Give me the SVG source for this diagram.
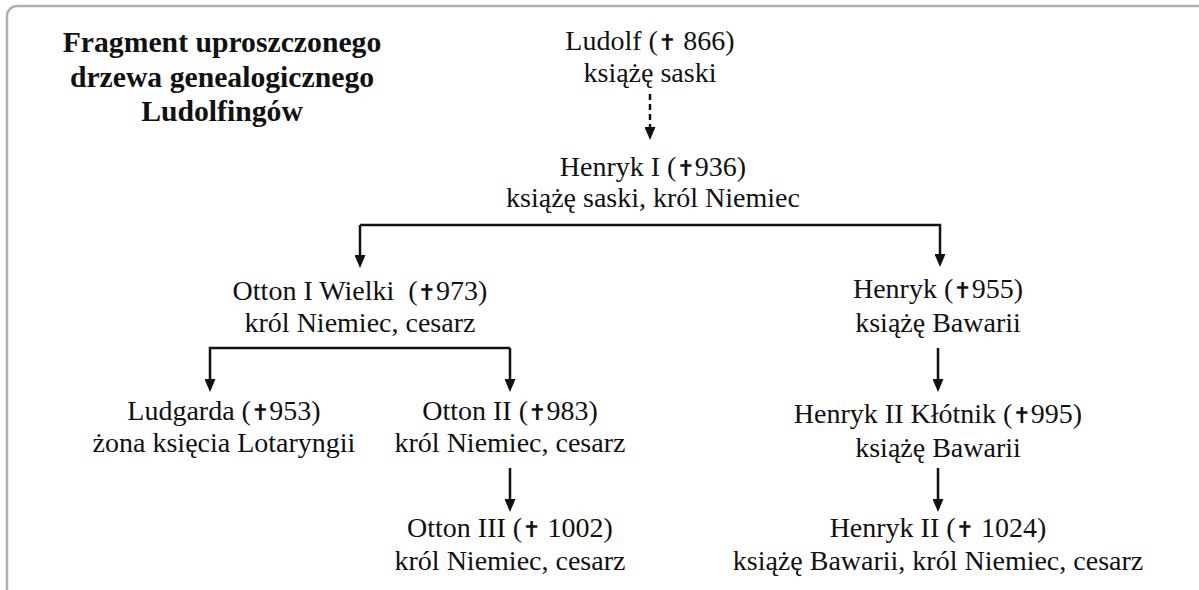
<svg xmlns="http://www.w3.org/2000/svg" width="1199" height="590" viewBox="0 0 1199 590">
<style>
.t{font-family:"Liberation Serif","Times New Roman",serif;font-size:28px;fill:#111;text-anchor:middle}
.b{font-weight:bold;font-size:29.7px}
.c{font-family:"DejaVu Sans",sans-serif;font-size:22px;font-weight:bold}
.ln{stroke:#111;stroke-width:2.5;fill:none}
</style>
<defs>
<marker id="ah" markerUnits="userSpaceOnUse" markerWidth="13" markerHeight="11" refX="3" refY="5.5" orient="auto" viewBox="0 0 13 11">
<path d="M0,0 L13,5.5 L0,11 Z" fill="#111"/>
</marker>
</defs>
<rect x="7" y="6" width="1260" height="700" rx="10" fill="#fff" stroke="#b0b0b0" stroke-width="2.5"/>
<g id="title">
<text class="t b" x="222" y="52">Fragment uproszczonego</text>
<text class="t b" x="222" y="87">drzewa genealogicznego</text>
<text class="t b" x="222" y="121">Ludolfingów</text>
</g>
<g id="ludolf">
<text class="t" x="650" y="50">Ludolf (<tspan class="c">✝</tspan> 866)</text>
<text class="t" x="650" y="82">książę saski</text>
</g>
<g id="henryk1">
<text class="t" x="653" y="176">Henryk I (<tspan class="c">✝</tspan>936)</text>
<text class="t" x="653" y="207">książę saski, król Niemiec</text>
</g>
<g id="otton1">
<text class="t" x="360" y="300">Otton I Wielki&#160; (<tspan class="c">✝</tspan>973)</text>
<text class="t" x="360" y="332">król Niemiec, cesarz</text>
</g>
<g id="henryk955">
<text class="t" x="938" y="298">Henryk (<tspan class="c">✝</tspan>955)</text>
<text class="t" x="938" y="332">książę Bawarii</text>
</g>
<g id="ludgarda">
<text class="t" x="224" y="420">Ludgarda (<tspan class="c">✝</tspan>953)</text>
<text class="t" x="224" y="452">żona księcia Lotaryngii</text>
</g>
<g id="otton2">
<text class="t" x="510" y="420">Otton II (<tspan class="c">✝</tspan>983)</text>
<text class="t" x="510" y="452">król Niemiec, cesarz</text>
</g>
<g id="otton3">
<text class="t" x="510" y="537">Otton III (<tspan class="c">✝</tspan> 1002)</text>
<text class="t" x="510" y="570">król Niemiec, cesarz</text>
</g>
<g id="henryk2k">
<text class="t" x="938" y="423">Henryk II Kłótnik (<tspan class="c">✝</tspan>995)</text>
<text class="t" x="938" y="457">książę Bawarii</text>
</g>
<g id="henryk2">
<text class="t" x="938" y="537">Henryk II (<tspan class="c">✝</tspan> 1024)</text>
<text class="t" x="938" y="570">książę Bawarii, król Niemiec, cesarz</text>
</g>
<g id="connectors">
<line class="ln" x1="650" y1="94" x2="650" y2="130" stroke-dasharray="6,4" marker-end="url(#ah)"/>
<path class="ln" d="M360,225 V258" marker-end="url(#ah)"/>
<path class="ln" d="M360,225 H940 V257" marker-end="url(#ah)"/>
<path class="ln" d="M510,348 H210 V382" marker-end="url(#ah)"/>
<path class="ln" d="M510,348 V382" marker-end="url(#ah)"/>
<line class="ln" x1="510" y1="468" x2="510" y2="502" marker-end="url(#ah)"/>
<line class="ln" x1="938" y1="348" x2="938" y2="382" marker-end="url(#ah)"/>
<line class="ln" x1="938" y1="468" x2="938" y2="502" marker-end="url(#ah)"/>
</g>
</svg>
